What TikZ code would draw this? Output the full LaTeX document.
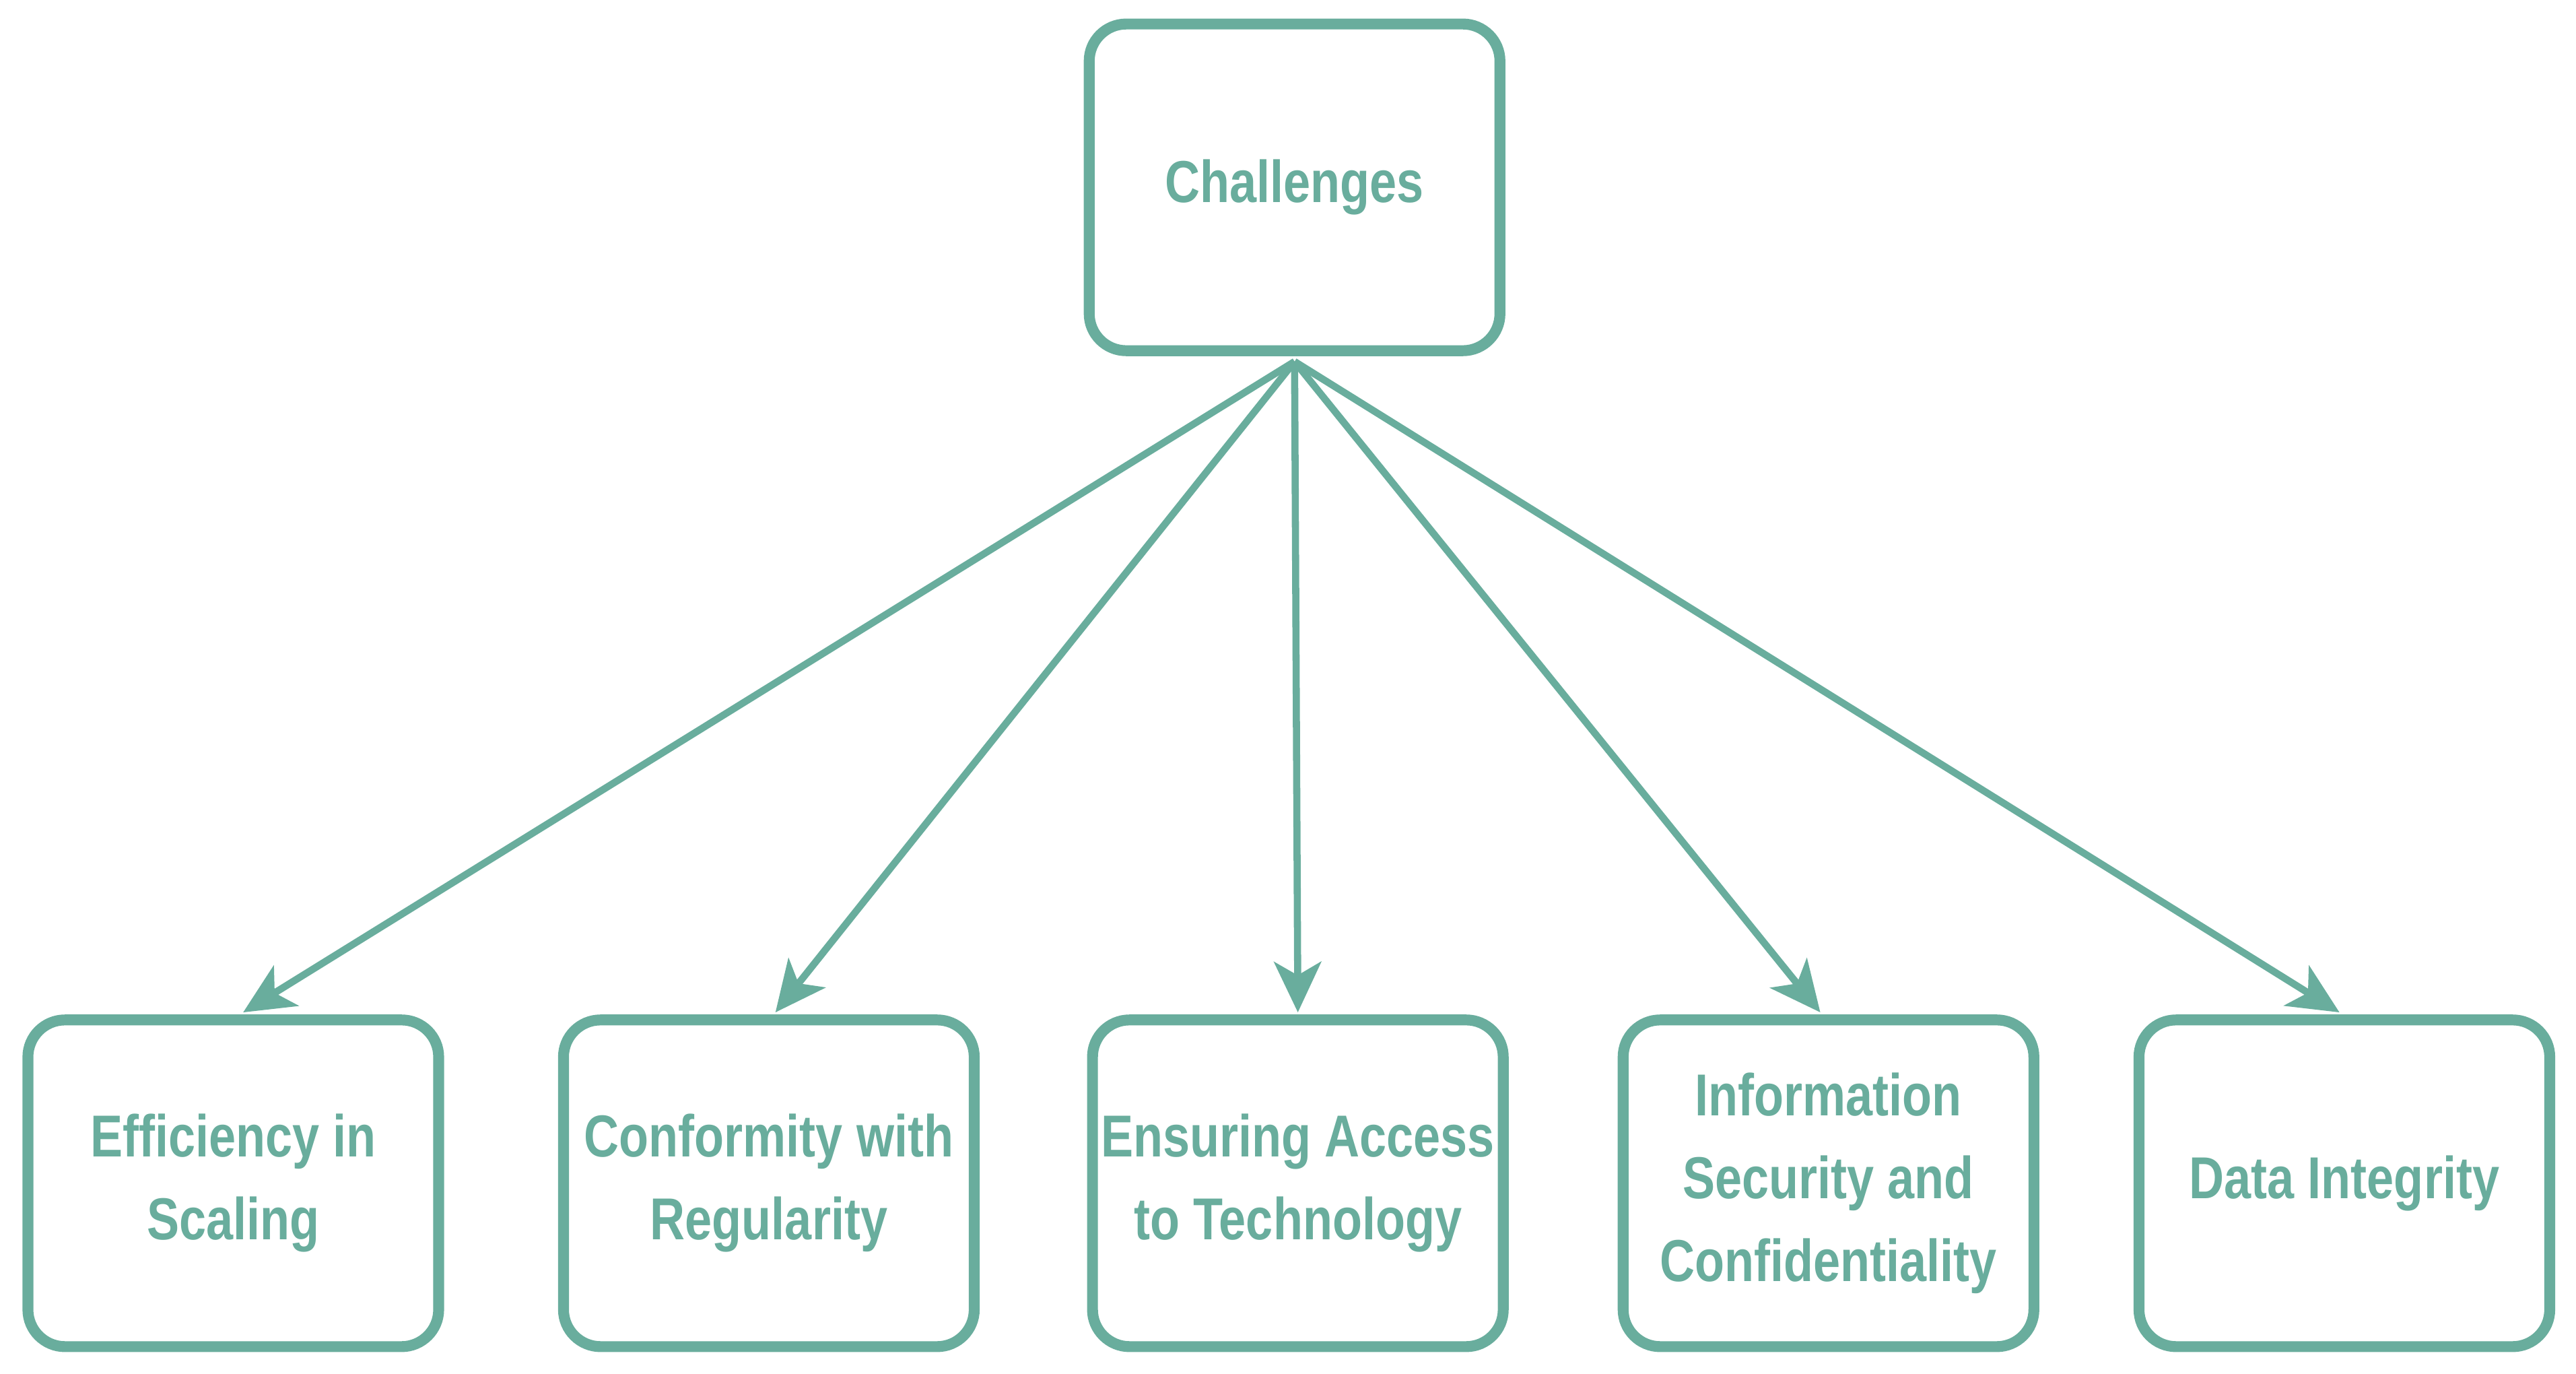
\documentclass[tikz,border=0pt]{standalone}
\usepackage{fontspec}
\setmainfont{Liberation Sans}[FakeStretch=0.82]
\usetikzlibrary{arrows.meta}
\definecolor{tl}{HTML}{69AD9D}
\begin{document}
\begin{tikzpicture}[x=0.0244cm,y=-0.0244cm,
 box/.style={draw=tl,line width=4.6pt,rounded corners=0.55cm,minimum width=6.1cm,minimum height=4.85cm,align=center,text=tl,font=\fontsize{25}{35}\selectfont\bfseries},
 arr/.style={draw=tl,line width=3pt,-{Stealth[length=0.75cm,width=0.7cm,inset=0.2cm]}}]
\useasboundingbox (0,0) rectangle (1568,836);
\node[box] (top) at (788,114) {Challenges};
\node[box] (b1) at (142,720) {Efficiency in\\Scaling};
\node[box] (b2) at (468,720) {Conformity with\\Regularity};
\node[box] (b3) at (790,720) {Ensuring Access\\to Technology};
\node[box] (b4) at (1113,720) {Information\\Security and\\Confidentiality};
\node[box] (b5) at (1427,720) {Data Integrity};
\coordinate (s) at (788,220);
\coordinate (e1) at (148,616);
\coordinate (e2) at (472,616);
\coordinate (e3) at (790,616);
\coordinate (e4) at (1108,616);
\coordinate (e5) at (1424,616);
\foreach \i in {1,...,5} \draw[arr] (s) -- (e\i);
\end{tikzpicture}
\end{document}
